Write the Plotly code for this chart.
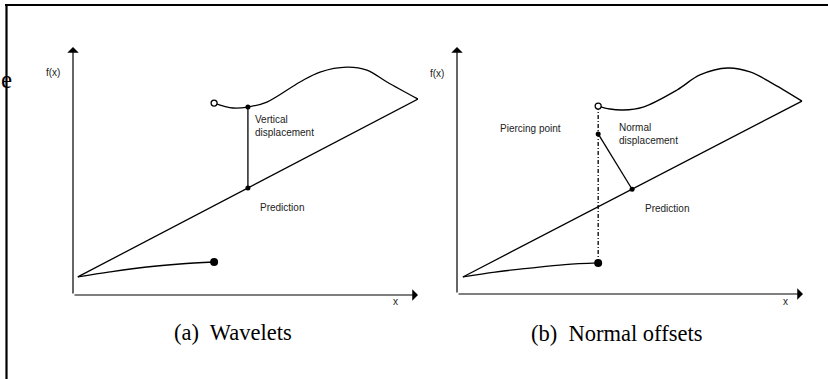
import plotly.graph_objects as go

W, H = 828, 379

# ---------- data (panel units: x 0..10 along x-axis, y 0..10 up the y-axis) ----------
# Panel (a) Wavelets
a_pred_x = [0.14, 10.0]
a_pred_y = [0.73, 7.90]
a_low_x = [0.14, 1.07, 2.14, 3.10, 4.09]
a_low_y = [0.73, 0.93, 1.13, 1.25, 1.33]
a_up_x = [4.09, 4.64, 5.07, 5.62, 6.58, 7.16, 7.94, 8.52, 9.10, 10.0]
a_up_y = [7.74, 7.54, 7.58, 7.78, 8.59, 8.99, 9.19, 9.07, 8.59, 7.90]
a_vert_x = [5.07, 5.07]
a_vert_y = [7.58, 4.31]

# Panel (b) Normal offsets
b_pred_x = [0.17, 9.97]
b_pred_y = [0.69, 7.81]
b_low_x = [0.17, 1.10, 2.11, 3.12, 4.08]
b_low_y = [0.69, 0.89, 1.05, 1.19, 1.26]
b_up_x = [4.08, 4.42, 4.80, 5.38, 6.36, 7.02, 7.83, 8.47, 9.05, 9.97]
b_up_y = [7.61, 7.49, 7.45, 7.57, 8.26, 8.87, 9.15, 8.99, 8.58, 7.81]
b_pierce_x = [4.08, 4.08]
b_pierce_y = [7.61, 1.26]
b_norm_x = [4.08, 5.06]
b_norm_y = [6.48, 4.24]

captions = ["(a)\u00a0 Wavelets", "(b)\u00a0 Normal offsets"]

# ---------- figure ----------
fig = go.Figure()
LW = 1.3
BLACK = "black"

DOM = {
    "a": dict(x=(73 / W, 418 / W), y=((H - 295) / H, (H - 47) / H)),
    "b": dict(x=(457 / W, 803 / W), y=((H - 294) / H, (H - 47) / H)),
}

def to_paper(panel, x, y):
    d = DOM[panel]
    px = d["x"][0] + x / 10 * (d["x"][1] - d["x"][0])
    py = d["y"][0] + y / 10 * (d["y"][1] - d["y"][0])
    return px, py

def line(x, y, xa, ya, dash="solid", shape="linear"):
    fig.add_trace(go.Scatter(x=x, y=y, xaxis=xa, yaxis=ya, mode="lines",
                             line=dict(color=BLACK, width=LW, dash=dash, shape=shape,
                                       smoothing=1.0),
                             hoverinfo="skip", showlegend=False))

def dots(x, y, xa, ya, size, fill=BLACK, lw=0):
    fig.add_trace(go.Scatter(x=x, y=y, xaxis=xa, yaxis=ya, mode="markers",
                             marker=dict(size=size, color=fill,
                                         line=dict(color=BLACK, width=lw)),
                             cliponaxis=False, hoverinfo="skip", showlegend=False))

# panel a
line(a_pred_x, a_pred_y, "x", "y")
line(a_low_x, a_low_y, "x", "y", shape="spline")
line(a_up_x, a_up_y, "x", "y", shape="spline")
line(a_vert_x, a_vert_y, "x", "y")
dots([a_low_x[-1]], [a_low_y[-1]], "x", "y", 8)
dots([a_up_x[0]], [a_up_y[0]], "x", "y", 6, fill="white", lw=1.3)
dots(a_vert_x, a_vert_y, "x", "y", 5)

# panel b
line(b_pred_x, b_pred_y, "x2", "y2")
line(b_low_x, b_low_y, "x2", "y2", shape="spline")
line(b_up_x, b_up_y, "x2", "y2", shape="spline")
line(b_pierce_x, b_pierce_y, "x2", "y2", dash="4px,2px,1px,2px")
line(b_norm_x, b_norm_y, "x2", "y2")
dots([b_low_x[-1]], [b_low_y[-1]], "x2", "y2", 8)
dots([b_up_x[0]], [b_up_y[0]], "x2", "y2", 6, fill="white", lw=1.3)
dots(b_norm_x, b_norm_y, "x2", "y2", 5)

ax_common = dict(visible=False, range=[0, 10], fixedrange=True)
fig.update_layout(
    width=W, height=H, margin=dict(l=0, r=0, t=0, b=0),
    paper_bgcolor="white", plot_bgcolor="rgba(0,0,0,0)",
    xaxis=dict(domain=list(DOM["a"]["x"]), **ax_common),
    yaxis=dict(domain=list(DOM["a"]["y"]), **ax_common),
    xaxis2=dict(domain=list(DOM["b"]["x"]), anchor="y2", **ax_common),
    yaxis2=dict(domain=list(DOM["b"]["y"]), anchor="x2", **ax_common),
)

anns = []
small = dict(family="Liberation Sans, Arial, sans-serif", size=10, color="#222")
serif = dict(family="Liberation Serif, Times New Roman, serif", size=22.5, color="black")

for xr, yr in (("x", "y"), ("x2", "y2")):
    # axis arrows
    for (hx, hy) in ((0, 10), (10, 0)):
        anns.append(dict(x=hx, y=hy, ax=0, ay=0, xref=xr, yref=yr, axref=xr, ayref=yr,
                         showarrow=True, arrowhead=1, arrowsize=1.6, arrowwidth=1.2,
                         arrowcolor=BLACK, text=""))

def label(text, panel, x, y, xanchor="left", font=small):
    px, py = to_paper(panel, x, y)
    anns.append(dict(text=text, x=px, y=py, xref="paper", yref="paper", showarrow=False,
                     xanchor=xanchor, yanchor="middle", font=font, align="left"))

label("f(x)", "a", -0.58, 8.99, xanchor="center")
label("x", "a", 9.36, -0.28, xanchor="center")
label("Vertical<br>displacement", "a", 5.22, 6.83)
label("Prediction", "a", 5.36, 3.51)
label(captions[0], "a", 4.64, -1.53, xanchor="center", font=serif)

label("f(x)", "b", -0.58, 8.91, xanchor="center")
label("x", "b", 9.48, -0.32, xanchor="center")
label("Piercing point", "b", 1.18, 6.72)
label("Normal<br>displacement", "b", 4.62, 6.46)
label("Prediction", "b", 5.38, 3.48)
label(captions[1], "b", 4.62, -1.58, xanchor="center", font=serif)

# cropped letter at the left edge
anns.append(dict(text="e", x=14 / W, y=(H - 80) / H, xref="paper", yref="paper",
                 showarrow=False, xanchor="right", yanchor="middle",
                 font=dict(family="Liberation Serif, Times New Roman, serif", size=25,
                           color="black")))

fig.update_layout(annotations=anns)

# page frame (top and left borders)
fig.update_layout(shapes=[
    dict(type="line", xref="paper", yref="paper", x0=5 / W, x1=1, y0=(H - 5) / H, y1=(H - 5) / H,
         line=dict(color=BLACK, width=2.2)),
    dict(type="line", xref="paper", yref="paper", x0=6.5 / W, x1=6.5 / W, y0=(H - 5) / H, y1=0,
         line=dict(color=BLACK, width=2.2)),
])

fig.write_html("out.html", config={"displayModeBar": False})
